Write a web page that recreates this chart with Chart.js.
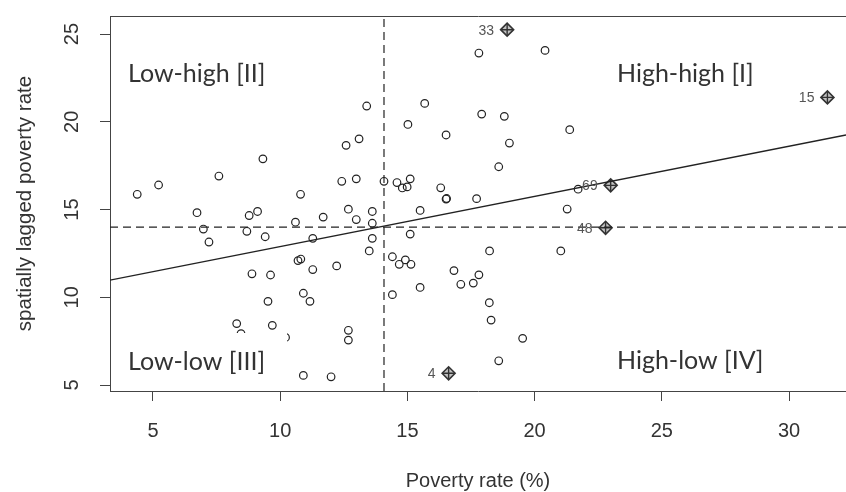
<!DOCTYPE html>
<html><head><meta charset="utf-8">
<script src="https://cdn.jsdelivr.net/npm/chart.js@4/dist/chart.umd.min.js"></script>
<style>html,body{margin:0;padding:0;background:#fff}#wrap{width:846px;height:492px;position:relative}</style>
</head><body><div id="wrap"><canvas id="c"></canvas></div>
<script>
// ---- data ----
const povertyRate = [4.38,5.22,7.59,9.32,6.73,6.98,7.20,8.69,8.78,9.11,9.41,10.60,10.80,11.69,11.28,12.42,12.99,12.68,12.99,13.62,13.62,13.62,13.50,14.08,14.59,14.80,14.99,15.11,16.31,16.52,16.54,15.50,15.11,14.41,14.68,14.92,15.14,10.70,10.81,11.28,12.22,12.59,13.10,13.40,15.02,15.68,16.52,17.81,17.92,18.81,19.01,18.59,20.41,21.38,17.72,21.28,21.71,16.83,17.10,17.59,17.81,18.23,21.03,18.22,18.29,19.53,18.59,15.50,14.41,12.68,12.68,10.91,12.00,8.89,9.62,9.52,10.91,11.17,8.29,8.46,9.69,10.21];
const laggedRate  = [15.87,16.40,16.91,17.89,14.82,13.89,13.15,13.76,14.66,14.89,13.45,14.28,15.87,14.57,13.36,16.61,16.75,15.02,14.43,14.89,14.22,13.36,12.64,16.61,16.54,16.23,16.29,16.75,16.24,15.60,15.63,14.95,13.60,12.31,11.88,12.13,11.88,12.09,12.18,11.58,11.79,18.66,19.03,20.90,19.85,21.05,19.25,23.92,20.44,20.31,18.79,17.44,24.07,19.55,15.62,15.03,16.16,11.52,10.74,10.81,11.28,12.64,12.64,9.69,8.70,7.66,6.38,10.56,10.15,8.12,7.56,5.55,5.47,11.34,11.27,9.77,10.23,9.77,8.50,7.93,8.40,7.71];
const inflIds = ['33','15','69','48','4'];
const inflX = [18.92,31.51,22.99,22.79,16.62];
const inflY = [25.25,21.39,16.38,13.96,5.67];
const fitX = [3.31, 32.24];
const fitY = [10.98, 19.25];
const meanX = 14.08;
const meanY = 14.0;
const xRange = [3.31, 32.24];
const yRange = [4.66, 26.03];
const xTicks = [5,10,15,20,25,30];
const yTicks = [5,10,15,20,25];
const quadrantLabels = ['High-high [I]','Low-high [II]','Low-low [III]','High-low [IV]'];
const xTitle = 'Poverty rate (%)';
const yTitle = 'spatially lagged poverty rate';

// ---- chart ----
const INK = '#222';
const AXIS = '#444';
const pts = povertyRate.map((v,i)=>({x:v,y:laggedRate[i]}));
const infl = inflX.map((v,i)=>({x:v,y:inflY[i]}));

const overlay = {
  id:'overlay',
  afterDatasetsDraw(chart){
    const {ctx, chartArea:a, scales:{x,y}} = chart;
    ctx.save();
    ctx.strokeStyle = AXIS; ctx.lineWidth = 1;
    ctx.beginPath(); ctx.moveTo(a.left, Math.round(a.top)+0.5); ctx.lineTo(a.right+2, Math.round(a.top)+0.5); ctx.stroke();
    ctx.font = '25px Lato';
    ctx.textAlign = 'left'; ctx.textBaseline = 'alphabetic';
    const places = [[617,82],[128,82],[128,370],[617,369]];
    quadrantLabels.forEach((t,i)=>{
      const [px,py] = places[i];
      const w = ctx.measureText(t).width;
      if (i===2){ ctx.fillStyle='#fff'; ctx.fillRect(a.left+1, py-37, px+w+22-a.left-1, a.bottom-(py-37)-1); }
      ctx.fillStyle = '#333';
      ctx.fillText(t, px, py);
    });
    ctx.font = '14px "Liberation Sans", Arial, sans-serif';
    ctx.textAlign = 'right'; ctx.textBaseline = 'middle';
    ctx.fillStyle = '#555';
    inflIds.forEach((t,i)=>{
      ctx.fillText(t, x.getPixelForValue(inflX[i])-13, y.getPixelForValue(inflY[i])+1);
    });
    ctx.restore();
  }
};

const tickFont = {family:'"Liberation Sans", Arial, sans-serif', size:20};
new Chart(document.getElementById('c'), {
  type:'scatter',
  data:{datasets:[
    {data:[{x:meanX,y:yRange[0]},{x:meanX,y:yRange[1]}], showLine:true, pointRadius:0, borderColor:INK, borderWidth:1.2, borderDash:[8,5]},
    {data:[{x:xRange[0],y:meanY},{x:xRange[1],y:meanY}], showLine:true, pointRadius:0, borderColor:INK, borderWidth:1.2, borderDash:[8,5]},
    {data:fitX.map((v,i)=>({x:v,y:fitY[i]})), showLine:true, pointRadius:0, borderColor:INK, borderWidth:1.3},
    {data:pts, pointStyle:'circle', pointRadius:3.8, borderWidth:1.2, borderColor:INK, backgroundColor:'rgba(0,0,0,0)'},
    {data:infl, pointStyle:'rectRot', pointRadius:6.5, borderWidth:1.6, borderColor:'#333', backgroundColor:'rgba(80,80,80,0.35)'},
    {data:infl, pointStyle:'cross', pointRadius:6, borderWidth:1.4, borderColor:'#222'}
  ]},
  options:{
    responsive:true, maintainAspectRatio:false, animation:false,
    layout:{autoPadding:false, padding:{top:16,right:0,left:0,bottom:0}},
    plugins:{legend:{display:false}, tooltip:{enabled:false}},
    scales:{
      x:{type:'linear', min:xRange[0], max:xRange[1],
        afterBuildTicks:s=>{s.ticks = xTicks.map(v=>({value:v}));},
        afterFit:s=>{s.height=101; s.paddingLeft=0; s.paddingRight=0;},
        grid:{drawOnChartArea:false, drawTicks:true, tickLength:10, color:AXIS, lineWidth:1},
        border:{display:true, color:AXIS, width:1},
        ticks:{font:tickFont, color:'#333', padding:18, maxRotation:0},
        title:{display:true, text:xTitle, font:{...tickFont, lineHeight:1}, color:'#333', padding:{top:0,bottom:1}}
      },
      y:{type:'linear', min:yRange[0], max:yRange[1],
        afterBuildTicks:s=>{s.ticks = yTicks.map(v=>({value:v}));},
        afterFit:s=>{s.width=110; s.paddingTop=0; s.paddingBottom=0;},
        grid:{drawOnChartArea:false, drawTicks:true, tickLength:10, color:AXIS, lineWidth:1},
        border:{display:true, color:AXIS, width:1},
        ticks:{font:tickFont, color:'#333', padding:16, minRotation:90, maxRotation:90, crossAlign:'center'},
        title:{display:true, text:yTitle, font:{...tickFont, size:20.5, lineHeight:1.2}, color:'#333', padding:{top:13,bottom:0}}
      }
    }
  },
  plugins:[overlay]
});
</script></body></html>
